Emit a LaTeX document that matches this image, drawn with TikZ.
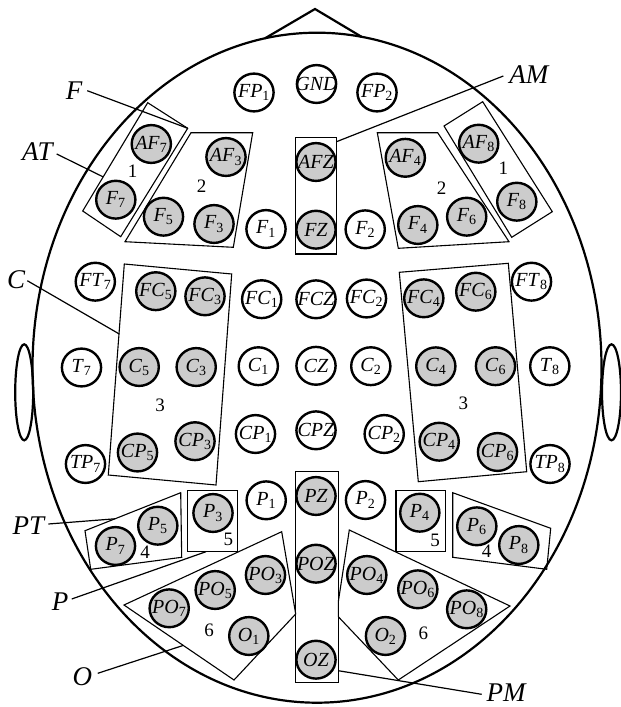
\documentclass[tikz,border=0pt]{standalone}
\usepackage{fontspec}
\setmainfont{Liberation Serif}
\usetikzlibrary{shapes.geometric}
\definecolor{egray}{RGB}{204,204,204}
\newcommand\elc[4]{\node[#1] (#2) at (#3) {\makebox[0pt]{#4}};}
\newcommand\lb[2]{\textit{#1}\textsubscript{#2}}
\begin{document}
\begin{tikzpicture}[x=1pt,y=-1pt,
  headline/.style={line width=2.2pt},
  region/.style={line width=1.1pt},
  lead/.style={line width=1.2pt},
  ebase/.style={ellipse, draw, line width=2.4pt, minimum width=39.2pt, minimum height=37.8pt, inner sep=0pt, font=\fontsize{20}{23}\selectfont},
  eg/.style={ebase, fill=egray},
  ew/.style={ebase, fill=white},
  big/.style={inner sep=0pt, font=\fontsize{27}{31}\selectfont\itshape},
  num/.style={inner sep=0pt, font=\fontsize{19}{22}\selectfont}]
\useasboundingbox (0,0) rectangle (621,707);
\fill[white] (0,0) rectangle (621,707);
% head
\draw[headline] (317,367.7) ellipse [x radius=284.5, y radius=335];
\draw[headline, line join=miter] (265,38.3) -- (315,9) -- (361.7,36.9);
\draw[headline] (24.2,392.3) ellipse [x radius=9, y radius=48];
\draw[headline] (611.5,392.3) ellipse [x radius=9.5, y radius=48];
% regions
\coordinate (b1Lt) at (147.7,102.7); \coordinate (b1Lr) at (187.7,128.3);
\coordinate (b1Lb) at (120.7,236.7); \coordinate (b1Ll) at (82.7,211);
\draw[region] (b1Lt) -- (b1Lr) -- (b1Lb) -- (b1Ll) -- cycle;
\draw[region] (444,126) -- (482.7,101.7) -- (552.3,211.7) -- (511.7,237.3) -- cycle;
\draw[region] (191,132.7) -- (252.7,132.7) -- (233.3,247.3) -- (125,241.7) -- cycle;
\draw[region] (377.3,132.7) -- (437.7,132.7) -- (509,241.7) -- (398.3,248.3) -- cycle;
\coordinate (bAM) at (336.5,141.7);
\draw[region] (295.3,137.7) rectangle (336.5,254);
\draw[region] (124.3,264) -- (231.7,274) -- (216,485) -- (108.3,475) -- cycle;
\draw[region] (399.3,272.3) -- (508.3,263.3) -- (526.7,471.7) -- (418.3,481.7) -- cycle;
\draw[region] (85,530.7) -- (180.7,492.7) -- (181.7,557.3) -- (90.7,569.3) -- cycle;
\draw[region] (452.7,492.7) -- (550.7,528.3) -- (546.7,569.3) -- (452.7,557.3) -- cycle;
\draw[region] (187.7,490.7) rectangle (237.7,551.7);
\draw[region] (396,490.7) rectangle (445.7,551.7);
\draw[region] (295.7,471.7) rectangle (338.3,682.3);
\draw[region] (124,605) -- (281.7,531.7) -- (295.7,614) -- (234,680) -- cycle;
\draw[region] (349.3,530) -- (510,606) -- (398.3,680) -- (338.3,616.7) -- (338.3,601.7) -- cycle;
% region numbers
\node[num] (n1L) at (132.7,171.7) {1};
\node[num] (n1R) at (503.3,168.3) {1};
\node[num] (n2L) at (201.7,186.7) {2};
\node[num] (n2R) at (441.7,188.3) {2};
\node[num] (n3L) at (160,405.7) {3};
\node[num] (n3R) at (463.3,403.3) {3};
\node[num] (n4L) at (145,552.7) {4};
\node[num] (n4R) at (486.7,551.7) {4};
\node[num] (n5L) at (228.3,539.3) {5};
\node[num] (n5R) at (435,540) {5};
\node[num] (n6L) at (209,630) {6};
\node[num] (n6R) at (423.3,633.3) {6};
% electrodes
\elc{ew}{FP1}{254,92.5}{\lb{FP}{1}}
\elc{ew}{GND}{316.5,84}{\textit{GND}}
\elc{ew}{FP2}{377,92.5}{\lb{FP}{2}}
\elc{eg}{AF7}{151.3,144}{\lb{AF}{7}}
\elc{eg}{AF3}{226,157}{\lb{AF}{3}}
\elc{eg}{AFZ}{316,162}{\textit{AFZ}}
\elc{eg}{AF4}{405.3,157.8}{\lb{AF}{4}}
\elc{eg}{AF8}{478.7,143.7}{\lb{AF}{8}}
\elc{eg}{F7}{115.8,199.7}{\lb{F}{7}}
\elc{eg}{F5}{163.5,216.7}{\lb{F}{5}}
\elc{eg}{F3}{214,224}{\lb{F}{3}}
\elc{ew}{F1}{266,229}{\lb{F}{1}}
\elc{eg}{FZ}{316,229.7}{\textit{FZ}}
\elc{ew}{F2}{365.2,229.3}{\lb{F}{2}}
\elc{eg}{F4}{417.8,225}{\lb{F}{4}}
\elc{eg}{F6}{466.7,216.7}{\lb{F}{6}}
\elc{eg}{F8}{516.8,201.7}{\lb{F}{8}}
\elc{ew}{FT7}{95.3,281.7}{\lb{FT}{7}}
\elc{eg}{FC5}{155.8,291.2}{\lb{FC}{5}}
\elc{eg}{FC3}{205,296.3}{\lb{FC}{3}}
\elc{ew}{FC1}{261.7,299.2}{\lb{FC}{1}}
\elc{ew}{FCZ}{316,299.3}{\textit{FCZ}}
\elc{ew}{FC2}{366.5,298.5}{\lb{FC}{2}}
\elc{eg}{FC4}{423.8,298.3}{\lb{FC}{4}}
\elc{eg}{FC6}{475.8,291.7}{\lb{FC}{6}}
\elc{ew}{FT8}{531.5,281.7}{\lb{FT}{8}}
\elc{ew}{T7}{81.5,367.5}{\lb{T}{7}}
\elc{eg}{C5}{139.2,367}{\lb{C}{5}}
\elc{eg}{C3}{196.2,367}{\lb{C}{3}}
\elc{ew}{C1}{258.3,366.2}{\lb{C}{1}}
\elc{ew}{CZ}{316,365.8}{\textit{CZ}}
\elc{ew}{C2}{370.8,366.2}{\lb{C}{2}}
\elc{eg}{C4}{435.8,366.3}{\lb{C}{4}}
\elc{eg}{C6}{495.5,366.2}{\lb{C}{6}}
\elc{ew}{T8}{549.8,366.2}{\lb{T}{8}}
\elc{ew}{TP7}{85.5,464}{\lb{TP}{7}}
\elc{eg}{CP5}{137.5,452.5}{\lb{CP}{5}}
\elc{eg}{CP3}{195,441.2}{\lb{CP}{3}}
\elc{ew}{CP1}{255.5,434}{\lb{CP}{1}}
\elc{ew}{CPZ}{316,430.3}{\textit{CPZ}}
\elc{ew}{CP2}{384.2,434}{\lb{CP}{2}}
\elc{eg}{CP4}{439.2,441.7}{\lb{CP}{4}}
\elc{eg}{CP6}{497.5,452}{\lb{CP}{6}}
\elc{ew}{TP8}{550,464}{\lb{TP}{8}}
\elc{eg}{P7}{115.5,546}{\lb{P}{7}}
\elc{eg}{P5}{157.8,525.7}{\lb{P}{5}}
\elc{eg}{P3}{213,513}{\lb{P}{3}}
\elc{ew}{P1}{266.2,500.3}{\lb{P}{1}}
\elc{eg}{PZ}{316,496}{\textit{PZ}}
\elc{ew}{P2}{365.5,500}{\lb{P}{2}}
\elc{eg}{P4}{419.8,512.7}{\lb{P}{4}}
\elc{eg}{P6}{476.8,526.3}{\lb{P}{6}}
\elc{eg}{P8}{518.8,545}{\lb{P}{8}}
\elc{eg}{PO7}{169.2,608.3}{\lb{PO}{7}}
\elc{eg}{PO5}{215.2,590}{\lb{PO}{5}}
\elc{eg}{PO3}{265.5,575}{\lb{PO}{3}}
\elc{eg}{POZ}{316,563.7}{\textit{POZ}}
\elc{eg}{PO4}{366.8,575}{\lb{PO}{4}}
\elc{eg}{PO6}{417.8,589.3}{\lb{PO}{6}}
\elc{eg}{PO8}{466.7,609.3}{\lb{PO}{8}}
\elc{eg}{O1}{248.8,636}{\lb{O}{1}}
\elc{eg}{OZ}{316,659.7}{\textit{OZ}}
\elc{eg}{O2}{385.5,636}{\lb{O}{2}}
% labels
\node[big] (lF) at (74,90.5) {F};
\node[big] (lAT) at (37.5,151.7) {AT};
\node[big] (lAM) at (528.8,75) {AM};
\node[big] (lC) at (16.2,279.5) {C};
\node[big] (lPT) at (28.3,526) {PT};
\node[big] (lP) at (60,601.3) {P};
\node[big] (lO) at (82.3,676.3) {O};
\node[big] (lPM) at (506,693) {PM};
% leader ends
\coordinate (sF) at (87.3,90.7);
\coordinate (sAT) at (56.7,154);   \coordinate (eAT) at (102.8,176.7);
\coordinate (sAM) at (503.3,76);
\coordinate (sC) at (27.3,280.7);  \coordinate (eC) at (119.3,334);
\coordinate (sPT) at (48.3,524);   \coordinate (ePT) at (115,518.8);
\coordinate (sP) at (71.7,599);    \coordinate (eP) at (206,551.7);
\coordinate (sO) at (97.7,673.3);  \coordinate (eO) at (183.3,645.4);
\coordinate (sPM) at (481.7,694.3); \coordinate (ePM) at (338.3,670.7);
\draw[lead] (sF) -- (b1Lr);
\draw[lead] (sAT) -- (eAT);
\draw[lead] (sAM) -- (bAM);
\draw[lead] (sC) -- (eC);
\draw[lead] (sPT) -- (ePT);
\draw[lead] (sP) -- (eP);
\draw[lead] (sO) -- (eO);
\draw[lead] (sPM) -- (ePM);
\end{tikzpicture}
\end{document}
